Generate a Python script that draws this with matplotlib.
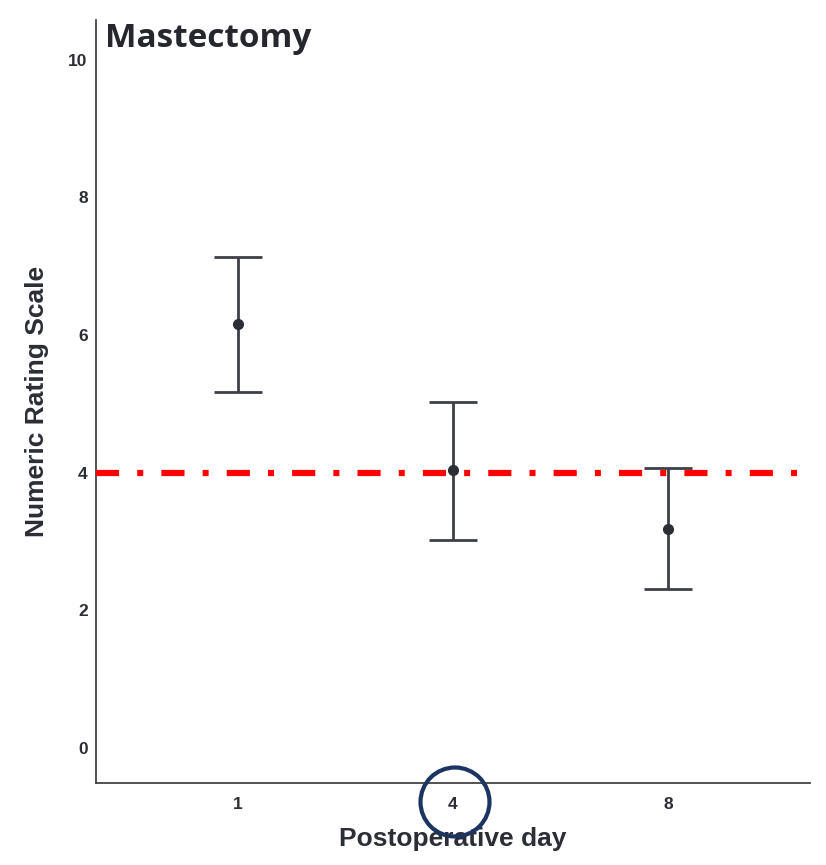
import matplotlib
matplotlib.use("Agg")
import matplotlib.pyplot as plt
from matplotlib.patches import Circle

days = ["1", "4", "8"]
means = [6.16, 4.04, 3.18]
upper = [7.14, 5.03, 4.07]
lower = [5.17, 3.02, 2.31]
threshold = 4

INK = "#2b2e35"
BAR = "#3d4048"

fig = plt.figure(figsize=(8.26, 8.65), dpi=100)
ax = fig.add_axes([0.1162, 0.0948, 0.8644, 0.8821])

xs = list(range(len(days)))
err = [[m - lo for m, lo in zip(means, lower)], [up - m for m, up in zip(means, upper)]]
ax.errorbar(xs, means, yerr=err, fmt="o", color=INK, ecolor=BAR, elinewidth=2,
            capsize=17, capthick=2, markersize=7, zorder=3)
ax.axhline(threshold, color="#ff0000", linewidth=4.5, dashes=(3.7, 2.9, 0.96, 2.9), zorder=4)

ax.set_xlim(-0.66, 2.66)
ax.set_ylim(-0.51, 10.58)
ax.set_xticks(xs)
ax.set_xticklabels(days)
ax.set_yticks([0, 2, 4, 6, 8, 10])
ax.tick_params(length=0, labelsize=12.5, labelcolor=INK)
ax.tick_params(axis="x", pad=10)
ax.tick_params(axis="y", pad=6)
for lab in ax.get_xticklabels() + ax.get_yticklabels():
    lab.set_fontweight("bold")
    lab.set_family("Liberation Sans")
ax.spines[["top", "right"]].set_visible(False)
for s in ("left", "bottom"):
    ax.spines[s].set_color("#444444")
    ax.spines[s].set_linewidth(1.3)

ax.set_xlabel("Postoperative day", fontsize=19, fontweight="bold", color=INK,
              family="Liberation Sans", labelpad=11)
ax.set_ylabel("Numeric Rating Scale", fontsize=19, fontweight="bold", color=INK,
              family="Liberation Sans", labelpad=14)
ax.text(0.012, 0.998, "Mastectomy", transform=ax.transAxes, fontsize=24,
        fontweight="bold", family="Open Sans", color="#25272d", va="top", ha="left")

# highlight circle around day 4 tick
fig.patches.append(Circle((4.55, 0.63), 0.345, transform=fig.dpi_scale_trans,
                          fill=False, edgecolor="#1b3461", linewidth=3))

fig.savefig("out.png", dpi=100, facecolor="white")
